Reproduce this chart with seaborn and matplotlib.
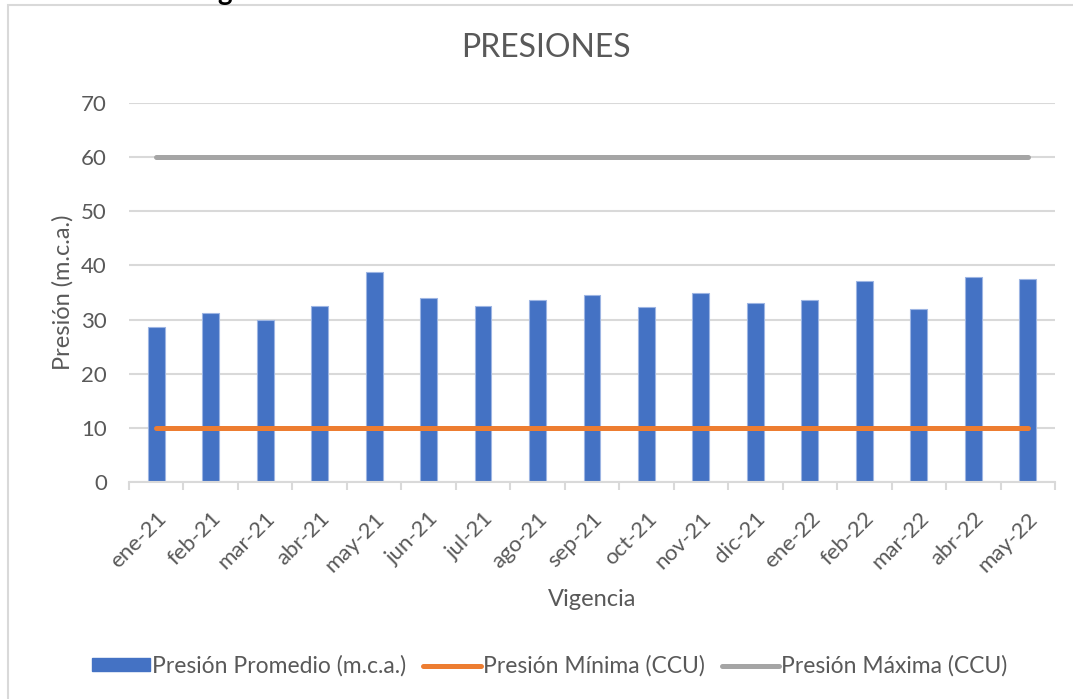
import numpy as np
import pandas as pd
import matplotlib
matplotlib.use("Agg")
import matplotlib.pyplot as plt
import seaborn as sns
from matplotlib.patches import Rectangle, Patch
from matplotlib.lines import Line2D

# datos
meses = ["ene-21", "feb-21", "mar-21", "abr-21", "may-21", "jun-21", "jul-21",
         "ago-21", "sep-21", "oct-21", "nov-21", "dic-21", "ene-22", "feb-22",
         "mar-22", "abr-22", "may-22"]
presion_promedio = [28.6, 31.2, 29.9, 32.5, 38.8, 34.0, 32.6, 33.7, 34.5,
                    32.3, 35.0, 33.1, 33.6, 37.1, 32.0, 37.9, 37.5]
presion_minima = [10] * len(meses)
presion_maxima = [60] * len(meses)

azul = "#4472C4"
naranja = "#ED7D31"
gris = "#A5A5A5"
texto = "#595959"
rejilla = "#D9D9D9"

sns.set_theme(style="white")
plt.rcParams["font.family"] = ["Lato", "DejaVu Sans"]

df = pd.DataFrame({"mes": meses, "promedio": presion_promedio})

fig = plt.figure(figsize=(10.73, 6.99), dpi=100)
ax = fig.add_axes([0.1202, 0.3104, 0.8630, 0.5422])

sns.barplot(data=df, x="mes", y="promedio", color=azul, width=0.31,
            edgecolor="#9DB5E3", linewidth=0.8, saturation=1, ax=ax)
x = np.arange(len(meses))
sns.lineplot(x=x, y=presion_minima, color=naranja, linewidth=3.6, ax=ax,
             solid_capstyle="round")
sns.lineplot(x=x, y=presion_maxima, color=gris, linewidth=3.6, ax=ax,
             solid_capstyle="round")

ax.set_ylim(0, 70)
ax.set_xlim(-0.5, len(meses) - 0.5)
ax.set_yticks(range(0, 80, 10))
ax.yaxis.grid(True, color=rejilla, linewidth=1.5)
ax.set_axisbelow(True)
for s in ["top", "right", "left"]:
    ax.spines[s].set_visible(False)
ax.spines["bottom"].set_color(rejilla)
ax.spines["bottom"].set_linewidth(1.5)

# marcas entre categorias, como en Excel
ax.set_xticks(x)
ax.set_xticklabels(meses, rotation=45, ha="right", rotation_mode="anchor",
                   fontsize=16, color=texto)
ax.tick_params(axis="x", length=0, pad=19)
ax.set_xticks(np.arange(-0.5, len(meses), 1), minor=True)
ax.tick_params(axis="x", which="minor", length=6, width=1.5, color=rejilla,
               bottom=True)
ax.tick_params(axis="y", length=0, labelsize=16, labelcolor=texto, pad=16)

ax.set_xlabel("Vigencia", fontsize=17, color=texto, labelpad=10)
ax.set_ylabel("Presión (m.c.a.)", fontsize=17, color=texto, labelpad=5)
fig.text(546 / 1073, 1 - 48 / 699, "PRESIONES", fontsize=23, color=texto,
         ha="center", va="center")

handles = [Patch(facecolor=azul, edgecolor=azul),
           Line2D([0], [0], color=naranja, linewidth=3.6, solid_capstyle="round"),
           Line2D([0], [0], color=gris, linewidth=3.6, solid_capstyle="round")]
etiquetas = ["Presión Promedio (m.c.a.)", "Presión Mínima (CCU)",
             "Presión Máxima (CCU)"]
fig.legend(handles, etiquetas, loc="center", bbox_to_anchor=(550 / 1073, 0.047),
           ncol=3, frameon=False, fontsize=16.5, labelcolor=texto,
           handlelength=2.5, handleheight=0.5, handletextpad=0.1,
           columnspacing=0.75)

# borde del recuadro del grafico
fig.patches.append(Rectangle((8 / 1073, -0.05), 1.05, 0.05 + 1 - 5 / 699,
                             transform=fig.transFigure, fill=False,
                             edgecolor=rejilla, linewidth=1.5))
fig.text(225 / 1073, 1 + 8 / 699, "g", fontsize=20, fontweight="bold",
         color="black", ha="center", va="center")

fig.savefig("out.png", dpi=100)
